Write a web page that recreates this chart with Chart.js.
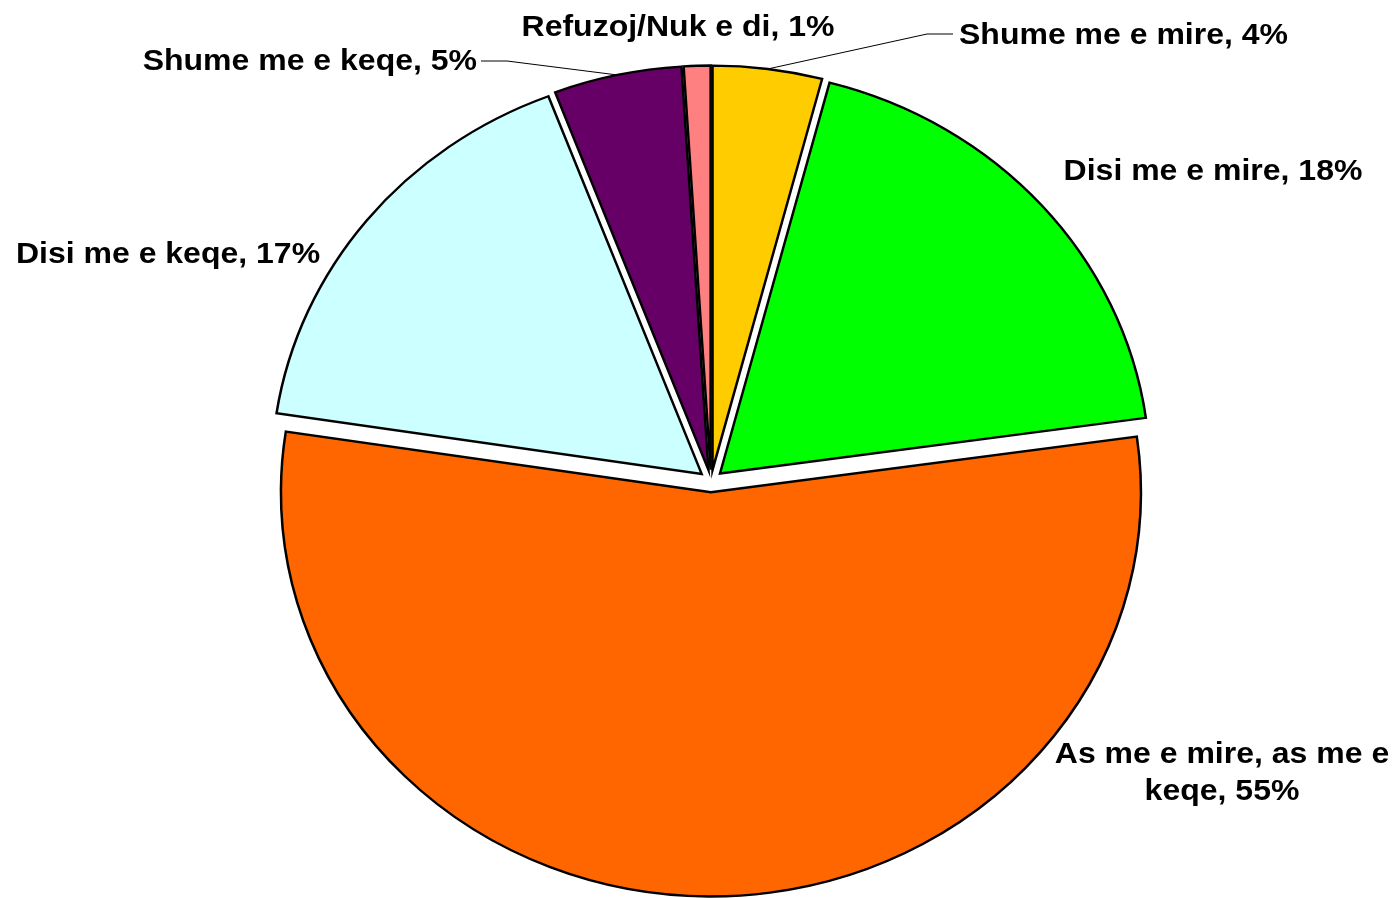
<!DOCTYPE html>
<html>
<head>
<meta charset="utf-8">
<script src="https://cdn.jsdelivr.net/npm/chart.js@4/dist/chart.umd.min.js"></script>
<style>
html,body{margin:0;padding:0;background:#ffffff;}
canvas{display:block;}
</style>
</head>
<body>
<canvas id="c" width="1397" height="898"></canvas>
<script>
// ---- data ----
const categories = ['Shume me e mire', 'Disi me e mire', 'As me e mire, as me e keqe', 'Disi me e keqe', 'Shume me e keqe', 'Refuzoj/Nuk e di'];
const shares = [4.1, 18.7, 54.6, 16.8, 4.8, 1.0];
const shownPercent = ['4%', '18%', '55%', '17%', '5%', '1%'];
const sliceColors = ['#FFCC00', '#00FF00', '#FF6600', '#CCFFFF', '#660066', '#FF8080'];

// ---- layout / style ----
const SY = 0.94;        // vertical squash of the pie (ellipse)
const EXPLODE = 12;     // explosion distance of each slice
const FONT = 'bold 32px "Liberation Sans", Arial, sans-serif';
const labelLayout = [
  {x: 959,  y: 44,  align: 'left',   leader: [[927, 34], [953, 34]]},
  {x: 1213, y: 180, align: 'center'},
  {x: 1222, y: 763, align: 'center', maxWidth: 345, lineGap: 37},
  {x: 168,  y: 263, align: 'center'},
  {x: 477,  y: 70,  align: 'right',  leader: [[507, 61], [481, 61]]},
  {x: 678,  y: 36,  align: 'center'}
];

function wrapText(ctx, text, maxWidth) {
  if (!maxWidth) return [text];
  const words = text.split(' ');
  const lines = [];
  let cur = '';
  words.forEach(w => {
    const t = cur ? cur + ' ' + w : w;
    if (ctx.measureText(t).width > maxWidth && cur) { lines.push(cur); cur = w; }
    else cur = t;
  });
  if (cur) lines.push(cur);
  return lines;
}

const pieShape = {
  id: 'pieShape',
  beforeDatasetsDraw(chart) {
    const ctx = chart.ctx;
    const meta = chart.getDatasetMeta(0);
    meta.data.forEach(arc => {
      const mid = (arc.startAngle + arc.endAngle) / 2;
      ctx.save();
      ctx.translate(arc.x, arc.y);
      ctx.scale(1, SY);
      ctx.translate(-arc.x, -arc.y);
      ctx.translate(Math.cos(mid) * EXPLODE, Math.sin(mid) * EXPLODE);
      arc.draw(ctx);
      ctx.restore();
    });
    return false;
  },
  afterDraw(chart) {
    const ctx = chart.ctx;
    const meta = chart.getDatasetMeta(0);
    ctx.save();
    ctx.font = FONT;
    ctx.fillStyle = '#000000';
    ctx.textBaseline = 'alphabetic';
    meta.data.forEach((arc, i) => {
      const L = labelLayout[i];
      const mid = (arc.startAngle + arc.endAngle) / 2;
      if (L.leader) {
        const r = arc.outerRadius + EXPLODE;
        const px = arc.x + Math.cos(mid) * r;
        const py = arc.y + Math.sin(mid) * r * SY;
        ctx.beginPath();
        ctx.lineWidth = 1;
        ctx.strokeStyle = '#000000';
        ctx.moveTo(px, py);
        L.leader.forEach(p => ctx.lineTo(p[0], p[1]));
        ctx.stroke();
      }
      const text = categories[i] + ', ' + shownPercent[i];
      const lines = wrapText(ctx, text, L.maxWidth);
      ctx.textAlign = L.align;
      lines.forEach((ln, k) => {
        ctx.save();
        ctx.translate(L.x, L.y + k * (L.lineGap || 0));
        ctx.scale(1, SY);
        ctx.fillText(ln, 0, 0);
        ctx.restore();
      });
    });
    ctx.restore();
  }
};

new Chart(document.getElementById('c'), {
  type: 'pie',
  data: {
    labels: categories,
    datasets: [{
      data: shares,
      backgroundColor: sliceColors,
      borderColor: '#000000',
      borderWidth: 2.5,
      borderJoinStyle: 'miter'
    }]
  },
  options: {
    responsive: false,
    animation: false,
    events: [],
    radius: 430,
    layout: {padding: {left: 25, right: 0, top: 64, bottom: 0}},
    plugins: {legend: {display: false}, tooltip: {enabled: false}}
  },
  plugins: [pieShape]
});
</script>
</body>
</html>
